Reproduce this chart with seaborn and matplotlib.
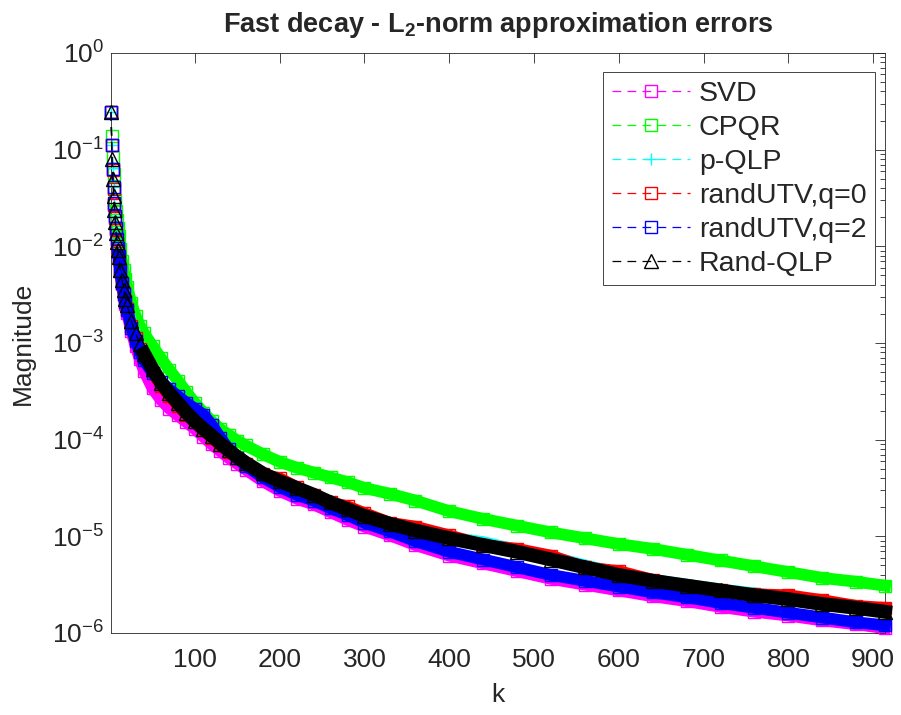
import numpy as np
import pandas as pd
import seaborn as sns
import matplotlib.pyplot as plt
from matplotlib.ticker import FixedLocator, NullFormatter

k = [1, 2, 3, 4, 5, 6, 7, 8, 9, 10,
     12, 14, 16, 18, 20,
     25, 30, 35, 40,
     50, 60, 70, 80, 90, 100, 110, 120, 130, 140, 150, 160,
     180, 200, 220, 240, 260, 280, 300,
     330, 360,
     400, 440, 480, 520, 560, 600, 640, 680, 720, 760, 800, 840, 880,
     914]

# errors, stored as log10 of the value
svd_log10 = [-0.61, -0.95, -1.20, -1.40, -1.56, -1.70, -1.82, -1.93, -2.03, -2.11,
             -2.26, -2.39, -2.50, -2.60, -2.69,
             -2.88, -3.03, -3.17, -3.29,
             -3.47, -3.59, -3.68, -3.75, -3.82, -3.89, -3.97, -4.05, -4.12, -4.19, -4.25, -4.31,
             -4.43, -4.53, -4.61, -4.67, -4.75, -4.83, -4.90,
             -4.99, -5.09,
             -5.20, -5.28, -5.36, -5.44, -5.50, -5.56, -5.62, -5.67, -5.73, -5.78, -5.82, -5.87, -5.91,
             -5.95]

cpqr_log10 = [-0.61, -0.86, -1.08, -1.25, -1.40, -1.52, -1.63, -1.73, -1.81, -1.89,
              -2.03, -2.15, -2.25, -2.34, -2.42,
              -2.59, -2.72, -2.82, -2.90,
              -3.03, -3.16, -3.28, -3.39, -3.51, -3.62, -3.72, -3.81, -3.89, -3.95, -4.01, -4.06,
              -4.15, -4.23, -4.29, -4.34, -4.39, -4.44, -4.50,
              -4.56, -4.63,
              -4.74, -4.82, -4.89, -4.96, -5.02, -5.08, -5.13, -5.19, -5.25, -5.31, -5.37, -5.43, -5.47,
              -5.51]

pqlp_log10 = [-0.61, -0.95, -1.19, -1.39, -1.55, -1.69, -1.81, -1.92, -2.02, -2.10,
              -2.24, -2.36, -2.46, -2.55, -2.63,
              -2.79, -2.92, -3.03, -3.13,
              -3.28, -3.42, -3.53, -3.63, -3.73, -3.82, -3.90, -3.97, -4.05, -4.12, -4.19, -4.25,
              -4.36, -4.44, -4.51, -4.58, -4.66, -4.73, -4.79,
              -4.87, -4.94,
              -5.01, -5.06, -5.14, -5.21, -5.30, -5.38, -5.45, -5.50, -5.55, -5.59, -5.63, -5.68, -5.72,
              -5.77]

utv0_log10 = [-0.61, -0.95, -1.21, -1.41, -1.57, -1.71, -1.83, -1.94, -2.04, -2.12,
              -2.26, -2.38, -2.48, -2.57, -2.65,
              -2.82, -2.95, -3.06, -3.16,
              -3.31, -3.44, -3.55, -3.65, -3.74, -3.80, -3.90, -3.98, -4.06, -4.13, -4.19, -4.25,
              -4.36, -4.40, -4.49, -4.57, -4.65, -4.69, -4.76,
              -4.86, -4.90,
              -4.99, -5.09, -5.13, -5.20, -5.32, -5.36, -5.45, -5.51, -5.56, -5.60, -5.61, -5.66, -5.72,
              -5.74]

utv2_log10 = [-0.61, -0.95, -1.20, -1.39, -1.55, -1.69, -1.81, -1.92, -2.02, -2.10,
              -2.25, -2.38, -2.49, -2.58, -2.66,
              -2.84, -2.98, -3.09, -3.18,
              -3.31, -3.40, -3.48, -3.55, -3.62, -3.68, -3.74, -3.85, -3.98, -4.10, -4.19, -4.27,
              -4.39, -4.49, -4.57, -4.63, -4.71, -4.78, -4.86,
              -4.95, -5.05,
              -5.16, -5.24, -5.32, -5.40, -5.46, -5.52, -5.58, -5.63, -5.69, -5.74, -5.79, -5.84, -5.89,
              -5.92]

randqlp_log10 = [-0.61, -1.10, -1.30, -1.48, -1.62, -1.75, -1.86, -1.96, -2.04, -2.11,
                 -2.24, -2.35, -2.45, -2.54, -2.61,
                 -2.77, -2.90, -3.01, -3.11,
                 -3.27, -3.41, -3.52, -3.62, -3.72, -3.81, -3.89, -3.96, -4.04, -4.11, -4.18, -4.24,
                 -4.35, -4.43, -4.50, -4.57, -4.65, -4.72, -4.79,
                 -4.87, -4.94,
                 -5.02, -5.09, -5.16, -5.24, -5.32, -5.40, -5.46, -5.51, -5.56, -5.61, -5.65, -5.70, -5.74,
                 -5.78]

names = ["SVD", "CPQR", "p-QLP", "randUTV,q=0", "randUTV,q=2", "Rand-QLP"]
logs = [svd_log10, cpqr_log10, pqlp_log10, utv0_log10, utv2_log10, randqlp_log10]
decades = [-6, -5, -4, -3, -2, -1, 0]

colors = {"SVD": "#ff00ff", "CPQR": "#00ff00", "p-QLP": "#00ffff",
          "randUTV,q=0": "#ff0000", "randUTV,q=2": "#0000ff", "Rand-QLP": "#000000"}
markers = {"SVD": "s", "CPQR": "s", "p-QLP": "+",
           "randUTV,q=0": "s", "randUTV,q=2": "s", "Rand-QLP": "^"}

sns.set_style("white")
plt.rcParams['font.family'] = ['Liberation Sans', 'DejaVu Sans']
plt.rcParams['mathtext.fontset'] = 'custom'
plt.rcParams['mathtext.rm'] = 'Liberation Sans'
plt.rcParams['mathtext.it'] = 'Liberation Sans:italic'
plt.rcParams['mathtext.bf'] = 'Liberation Sans:bold'

fig = plt.figure(figsize=(9.01, 7.15), dpi=100)
ax = fig.add_axes([0.1232, 0.1147, 0.8590, 0.8112])

for i, (name, lg) in enumerate(zip(names, logs)):
    df = pd.DataFrame({"k": k, "err": 10.0 ** np.array(lg)})
    color = colors[name]
    # dense markers in the original merge into a solid band
    start = 40 if name == "Rand-QLP" else 10
    tail = df[df["k"] >= start]
    ax.plot(tail["k"], tail["err"], color=color, lw=10 if name == "Rand-QLP" else 8.5,
            solid_capstyle="projecting", solid_joinstyle="round",
            zorder=2 + 2 * i, clip_on=False)
    sns.lineplot(data=df, x="k", y="err", ax=ax, color=color, label=name,
                 estimator=None, errorbar=None,
                 linestyle=(0, (7, 5)), lw=0.9,
                 marker=markers[name], markersize=10 if name == "Rand-QLP" else 9,
                 markerfacecolor="none", markeredgecolor=color, markeredgewidth=1.0,
                 zorder=3 + 2 * i, clip_on=False)

ax.set_yscale("log")
ax.set_xlim(1, 914)
ax.set_ylim(1e-6, 1)
ax.set_xticks(range(100, 1000, 100))
ax.set_yticks([10.0 ** d for d in decades])
ax.yaxis.set_minor_locator(FixedLocator([m * 10.0 ** d for d in decades[:-1] for m in range(2, 10)]))
ax.yaxis.set_minor_formatter(NullFormatter())

ax.tick_params(which="both", direction="in", top=True, right=True,
               color="#262626", labelcolor="#262626", labelsize=19, width=0.6)
ax.tick_params(axis="x", which="major", length=7, pad=11)
ax.tick_params(axis="y", which="major", length=7, pad=5)
ax.tick_params(which="minor", length=3.5)

for sp in ax.spines.values():
    sp.set_color("#262626")
    sp.set_linewidth(0.6)

ax.set_xlabel("k", fontsize=19, color="#262626", labelpad=8)
ax.set_ylabel("Magnitude", fontsize=19, color="#262626", labelpad=12)
ax.set_title(r"Fast decay - L$_{\mathbf{2}}$-norm approximation errors",
             fontsize=19.5, fontweight="bold", pad=15)

handles, labels = ax.get_legend_handles_labels()
leg = ax.legend(handles, labels, loc="upper right", bbox_to_anchor=(0.987, 0.967),
                borderaxespad=0, fontsize=20.5, frameon=True, fancybox=False,
                edgecolor="#262626", framealpha=1, handlelength=2.75,
                handletextpad=0.3, labelspacing=0.28, borderpad=0.3, numpoints=1)
leg.get_frame().set_linewidth(0.6)

fig.savefig("out.png", dpi=100)
